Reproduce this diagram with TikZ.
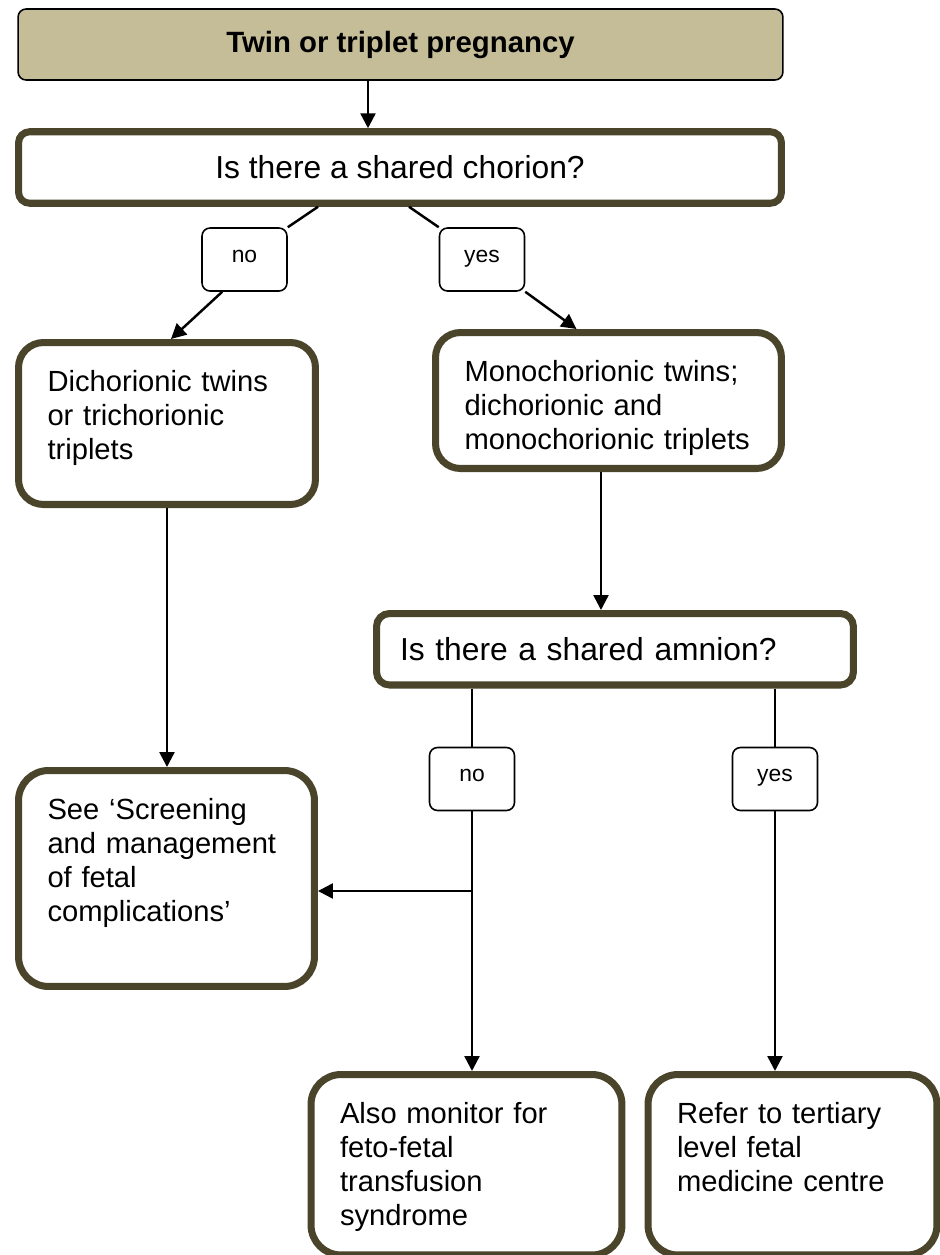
\documentclass[tikz,border=0pt]{standalone}
\usepackage{fontspec}
\setmainfont{Liberation Sans}
\usepackage{tikz}
\usetikzlibrary{arrows.meta, positioning}
\definecolor{boxline}{RGB}{74,68,42}
\definecolor{topfill}{RGB}{196,189,152}

\begin{document}
\begin{tikzpicture}[
    x=0.02cm, y=-0.02cm,
    font=\fontsize{16.6}{19.4}\selectfont,
    startbox/.style={rectangle, draw, fill=topfill, rounded corners=0.16cm, line width=0.9pt, minimum width=15.3cm, minimum height=1.42cm, font=\fontsize{16.7}{20}\selectfont\bfseries},
    question/.style={rectangle, draw=boxline, rounded corners=0.22cm, line width=4pt, minimum height=1.43cm, font=\fontsize{18.1}{22}\selectfont},
    bigbox/.style={rectangle, draw=boxline, rounded corners=0.5cm, line width=4pt, align=left, anchor=north west, inner xsep=0.58cm, inner ysep=0pt, text height=0.97cm},
    answer/.style={rectangle, draw, rounded corners=0.16cm, line width=0.9pt, minimum width=1.7cm, minimum height=1.26cm, text height=0.55em, text depth=0.25em, font=\fontsize{13}{16}\selectfont},
    arrow/.style={-{Triangle[length=0.3cm, width=0.3cm]}, line width=1.4pt},
    link/.style={line width=1.4pt}
]
\useasboundingbox (0,0) rectangle (940,1255);
\clip (0,0) rectangle (940,1255);

\node[startbox] (start) at (400.5,44.5) {Twin or triplet pregnancy};
\node[question, minimum width=15.26cm] (chorion) at (400,167.5) {Is there a shared chorion?};
\node[answer] (no1) at (244.5,259.5) {no};
\node[answer] (yes1) at (482,259.5) {yes};
\node[bigbox, text width=4.78cm, text depth=2.27cm] (dicho) at (15,339) {Dichorionic twins\\or trichorionic\\triplets};
\node[bigbox, text width=5.76cm, text depth=1.75cm] (mono) at (432,329) {Monochorionic twins;\\dichorionic and\\monochorionic~triplets};
\node[question, anchor=north west, align=left, text width=8.6cm, inner xsep=0.47cm, minimum width=9.54cm, rounded corners=0.26cm] (amnion) at (373,610) {Is there a shared amnion?};
\node[answer] (no2) at (472,779) {no};
\node[answer] (yes2) at (775,779) {yes};
\node[bigbox, text width=4.76cm, text depth=3.35cm, rounded corners=0.6cm] (see) at (15,767) {See `Screening\\and management\\of fetal\\complications'};
\node[bigbox, text width=5.06cm, text depth=2.64cm, rounded corners=0.6cm] (also) at (307.5,1071) {Also monitor for\\feto-fetal\\transfusion\\syndrome};
\node[bigbox, text width=4.62cm, text depth=2.64cm, rounded corners=0.6cm] (refer) at (644.5,1071) {Refer to tertiary\\level fetal\\medicine centre};

\coordinate (start-out) at ([xshift=-0.65cm]start.south);
\coordinate (mono-out) at ([xshift=-0.15cm]mono.south);
\path (no2.south |- see.east) ++(0,12.5) coordinate (split);

\draw[arrow] (start-out) -- (start-out |- chorion.north);
\draw[link] ([xshift=-1.64cm]chorion.south) -- (no1.north east);
\draw[arrow] ([xshift=0.42cm]no1.south west) -- ([xshift=0.08cm]dicho.north);
\draw[link] ([xshift=0.18cm]chorion.south) -- (yes1.north west);
\draw[arrow] (yes1.south east) -- ([xshift=-0.64cm]mono.north);
\draw[arrow] (mono-out) -- (mono-out |- amnion.north);
\draw[arrow] (dicho.south) -- (dicho.south |- see.north);
\draw[link] (amnion.south -| no2.north) -- (no2.north);
\draw[arrow] (no2.south) -- (no2.south |- also.north);
\draw[arrow] (split) -- (split -| see.east);
\draw[link] (amnion.south -| yes2.north) -- (yes2.north);
\draw[arrow] (yes2.south) -- (yes2.south |- refer.north);
\end{tikzpicture}
\end{document}
